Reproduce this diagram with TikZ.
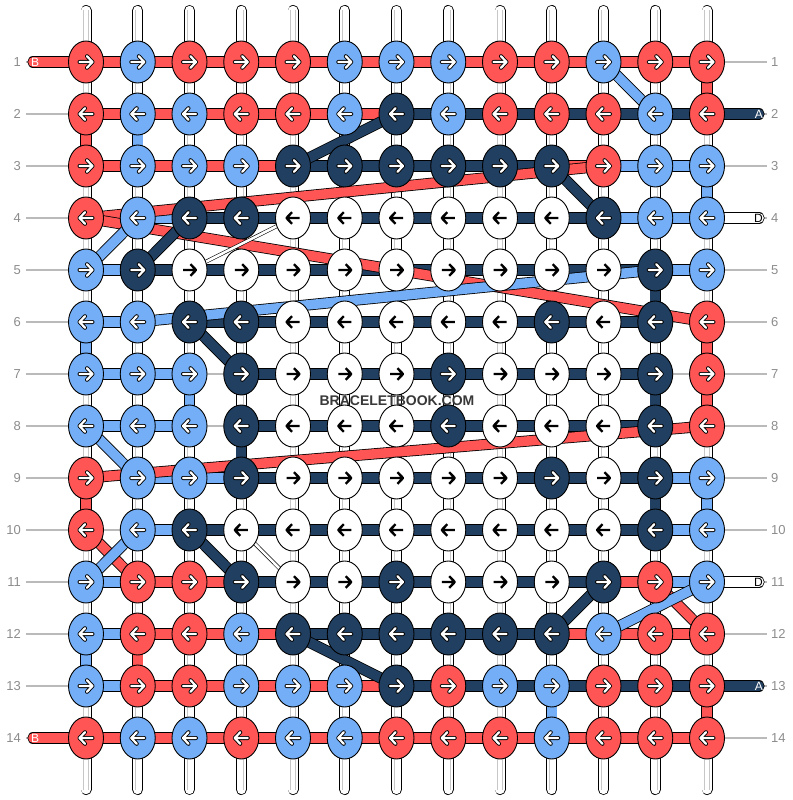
\documentclass[tikz,border=0pt]{standalone}
\usepackage{fontspec}
\setmainfont{Liberation Sans}
\usetikzlibrary{shapes.geometric}
\definecolor{kR}{HTML}{FF5555}
\definecolor{kB}{HTML}{73AEF6}
\definecolor{kN}{HTML}{213F60}
\definecolor{kW}{HTML}{FFFFFF}
\tikzset{
  knot/.style={ellipse, draw=black, line width=0.9pt, fill=#1, minimum width=35pt, minimum height=42pt, inner sep=0pt},
  band/.style={draw=black, double=#1, double distance=9.6pt, line width=0.8pt},
  strand/.style={draw=black, double=white, double distance=2.6pt, line width=0.6pt},
  string/.style={draw=black, double=white, double distance=9.4pt, line width=0.8pt, line cap=round},
  core/.style={draw=black!22, double=white, double distance=4pt, line width=0.6pt},
  guide/.style={draw=black!27, line width=1.2pt},
  rowlbl/.style={text=black!45, font=\fontsize{13}{13}\selectfont, inner sep=0pt},
  endlbl/.style={font=\fontsize{12}{12}\selectfont, inner sep=0pt},
  knotarrow/.pic={\path[pic actions] (-6.5,0) -- (6.5,0) (1,-5.8) -- (6.5,0) -- (1,5.8);}
}
\def\rows{
  1/{R,B,R,R,R,B,B,B,R,R,B,R,R}/{R,R,R,R,R,R,R,R,R,R,R,R},
  2/{R,B,B,R,R,B,N,B,R,R,R,B,R}/{R,R,R,R,R,R,N,N,N,N,N,N},
  3/{R,B,B,B,N,N,N,N,N,N,R,B,B}/{R,R,R,R,N,N,N,N,N,R,B,B},
  4/{R,B,N,N,W,W,W,W,W,W,N,B,B}/{R,B,N,N,N,N,N,N,N,N,B,B},
  5/{B,N,W,W,W,W,W,W,W,W,W,N,B}/{B,N,N,N,N,N,N,N,N,N,N,B},
  6/{B,B,N,N,W,W,W,W,W,N,W,N,R}/{B,X,N,N,N,N,N,N,N,N,N,X},
  7/{B,B,B,N,W,W,W,N,W,W,W,N,R}/{B,B,X,N,N,N,N,N,N,N,N,X},
  8/{B,B,B,N,W,W,W,N,W,W,W,N,R}/{B,B,X,N,N,N,N,N,N,N,N,X},
  9/{R,B,B,N,W,W,W,W,W,N,W,N,B}/{X,B,B,N,N,N,N,N,N,N,N,B},
  10/{R,B,N,W,W,W,W,W,W,W,W,N,B}/{X,B,N,N,N,N,N,N,N,N,N,B},
  11/{B,R,R,N,W,W,N,W,W,W,N,R,B}/{B,R,R,N,N,N,N,N,N,N,R,B},
  12/{B,R,R,B,N,N,N,N,N,N,B,R,R}/{B,R,R,R,N,N,N,N,N,R,R,R},
  13/{B,R,R,B,B,B,N,R,B,B,R,R,R}/{B,R,R,R,R,R,N,N,N,N,N,N},
  14/{R,B,B,R,B,B,R,R,R,B,R,R,R}/{R,R,R,R,R,R,R,R,R,R,R,R}}
\begin{document}
\begin{tikzpicture}[x=1pt,y=-1pt]
  \useasboundingbox (0,0) rectangle (792,800);
  \foreach \r in {1,...,14} {
    \foreach \c in {1,...,13}
      \coordinate (p-\c-\r) at ({86+51.75*(\c-1)},{62+52*(\r-1)});
    \coordinate (gl-\r) at (26,{62+52*(\r-1)});
    \coordinate (gr-\r) at (767,{62+52*(\r-1)});
    \draw[guide] (gl-\r) -- (gr-\r);
    \node[rowlbl, anchor=east] (ll-\r) at (21,{62+52*(\r-1)}) {\r};
    \node[rowlbl, anchor=west] (rl-\r) at (771,{62+52*(\r-1)}) {\r};
  }
  \foreach \c in {1,...,13} {
    \coordinate (top-\c) at ({86+51.75*(\c-1)},10.5);
    \coordinate (bot-\c) at ({86+51.75*(\c-1)},789.5);
    \draw[string] (top-\c) -- (bot-\c);
    \draw[core] (top-\c) -- (bot-\c);
  }
  \foreach \r/\c/\x/\sc/\lbl/\tc/\an/\lx in {1/1/33/R/B/white/west/31, 14/1/33/R/B/white/west/31,
      2/13/759/N/A/white/east/763, 4/13/759/W/D/black/east/763,
      11/13/759/W/D/black/east/763, 13/13/759/N/A/white/east/763} {
    \coordinate (e-\r) at (\x,{62+52*(\r-1)});
    \draw[band=k\sc, line cap=round] (e-\r) -- (p-\c-\r);
    \node[endlbl, text=\tc, anchor=\an] (el-\r) at (\lx,{62+52*(\r-1)}) {\lbl};
  }
  \foreach \r/\ks/\hs in \rows {
    \foreach \h [count=\c] in \hs {
      \if X\h\else
        \pgfmathtruncatemacro\d{\c+1}
        \draw[band=k\h] (p-\c-\r) -- (p-\d-\r);
      \fi
    }
  }
  \foreach \sc/\a/\b in {B/11-1/12-2, R/13-1/13-2, N/7-2/5-3, R/1-2/1-3, B/2-2/2-3,
      R/11-3/1-4, N/10-3/11-4, B/13-3/13-4, R/1-4/13-6, B/2-4/1-5, N/3-4/2-5,
      N/12-5/12-6, B/12-5/2-6, N/3-6/4-7, B/1-6/1-7, R/13-6/13-7, B/3-7/3-8,
      N/12-7/12-8, R/13-7/13-8, B/1-8/2-9, R/13-8/1-9, N/4-8/4-9, R/1-9/1-10,
      N/12-9/12-10, B/13-9/13-10, R/1-10/2-11, B/2-10/1-11, N/3-10/4-11,
      N/11-11/10-12, R/12-11/13-12, B/13-11/11-12, N/5-12/7-13, B/1-12/1-13,
      R/2-12/2-13, B/10-13/10-14, R/13-13/13-14}
    \draw[band=k\sc] (p-\a) -- (p-\b);
  \draw[strand] (p-5-4) -- (p-3-5);
  \draw[strand] (p-4-10) -- (p-5-11);
  \foreach \r/\ks/\hs in \rows {
    \pgfmathtruncatemacro\dir{isodd(\r) ? 1 : -1}
    \foreach \k [count=\c] in \ks {
      \node[knot=k\k] (k-\c-\r) at (p-\c-\r) {};
      \if W\k
        \pic[draw=black, line width=2.4pt, line join=round, xscale=\dir] at (k-\c-\r) {knotarrow};
      \else
        \pic[draw=black, line width=4pt, line cap=round, line join=round, xscale=\dir] at (k-\c-\r) {knotarrow};
        \pic[draw=white, line width=2.2pt, line cap=round, line join=round, xscale=\dir] at (k-\c-\r) {knotarrow};
      \fi
    }
  }
  \node[font=\fontsize{14}{14}\selectfont\bfseries, text=black!78] (mark) at (397,401) {BRACELETBOOK.COM};
\end{tikzpicture}
\end{document}
